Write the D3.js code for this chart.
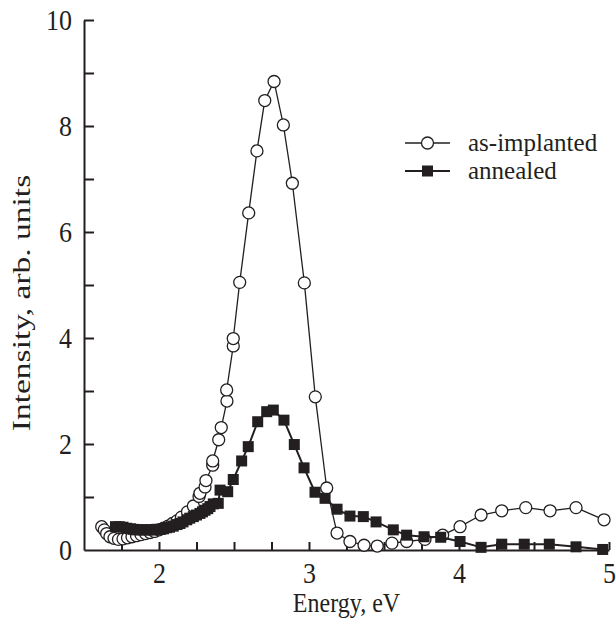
<!DOCTYPE html>
<html>
<head>
<meta charset="utf-8">
<script src="https://cdn.jsdelivr.net/npm/d3@7"></script>
<style>
  html, body { margin: 0; padding: 0; background: #fff; }
  svg { display: block; }
  .axis text, .lbl {
    font-family: "Liberation Serif", "Times New Roman", serif; fill: #231f20;
    transform-box: fill-box; transform-origin: center; transform: scaleY(1.12);
  }
  .axis text { font-size: 26px; }
  .axis line, .axis path { stroke: #231f20; stroke-width: 2; }
  .lbl { font-size: 24px; }
  .leg { font-family: "Liberation Serif", "Times New Roman", serif; font-size: 25px; fill: #231f20; }
  .ylbl { font-family: "Liberation Serif", "Times New Roman", serif; font-size: 25px; fill: #231f20; }
</style>
</head>
<body>
<div id="chart"></div>
<script>
// Photoluminescence spectra: [energy eV, intensity arb. units]
const asImplanted = [
  [1.618, 0.44], [1.635, 0.38], [1.651, 0.31], [1.673, 0.25], [1.700, 0.22],
  [1.730, 0.20], [1.760, 0.21], [1.790, 0.23], [1.820, 0.25], [1.850, 0.27],
  [1.880, 0.29], [1.910, 0.31], [1.940, 0.33], [1.970, 0.35], [2.000, 0.38],
  [2.030, 0.41], [2.060, 0.45], [2.090, 0.50], [2.120, 0.55], [2.150, 0.62],
  [2.190, 0.72], [2.229, 0.83], [2.267, 1.01], [2.273, 1.07], [2.307, 1.19],
  [2.313, 1.31], [2.358, 1.60], [2.358, 1.68], [2.398, 2.08], [2.415, 2.31],
  [2.453, 2.81], [2.451, 3.02], [2.495, 3.85], [2.495, 3.99], [2.538, 5.05],
  [2.598, 6.36], [2.653, 7.53], [2.705, 8.48], [2.767, 8.84], [2.829, 8.02],
  [2.889, 6.92], [2.969, 5.04], [3.042, 2.89], [3.118, 1.17], [3.187, 0.32],
  [3.273, 0.16], [3.367, 0.09], [3.455, 0.075], [3.553, 0.13], [3.651, 0.16],
  [3.773, 0.20], [3.891, 0.28], [4.007, 0.44], [4.147, 0.66], [4.285, 0.74],
  [4.445, 0.80], [4.607, 0.74], [4.780, 0.80], [4.967, 0.57]
];

const annealed = [
  [1.710, 0.44], [1.735, 0.44], [1.760, 0.43], [1.785, 0.41], [1.810, 0.40],
  [1.830, 0.39], [1.850, 0.38], [1.875, 0.38], [1.900, 0.38], [1.920, 0.38],
  [1.945, 0.38], [1.965, 0.38], [1.985, 0.39], [2.007, 0.39], [2.030, 0.40],
  [2.050, 0.42], [2.070, 0.43], [2.095, 0.45], [2.120, 0.48], [2.140, 0.50],
  [2.160, 0.53], [2.185, 0.57], [2.205, 0.60], [2.229, 0.63], [2.250, 0.66],
  [2.273, 0.69], [2.290, 0.72], [2.307, 0.75], [2.325, 0.78], [2.340, 0.82],
  [2.362, 0.87], [2.395, 0.88], [2.407, 1.13], [2.458, 1.10], [2.495, 1.33],
  [2.551, 1.68], [2.595, 1.95], [2.658, 2.42], [2.718, 2.61], [2.762, 2.64],
  [2.833, 2.45], [2.902, 1.99], [2.967, 1.55], [3.040, 1.09], [3.107, 0.975],
  [3.187, 0.77], [3.273, 0.64], [3.362, 0.63], [3.447, 0.53], [3.562, 0.38],
  [3.651, 0.28], [3.767, 0.25], [3.878, 0.24], [4.007, 0.16], [4.147, 0.05],
  [4.285, 0.11], [4.435, 0.11], [4.602, 0.11], [4.780, 0.06], [4.958, 0.01]
];

const xDomain = [1.5, 5];
const yDomain = [0, 10];
const xTicks = [1.75, 2, 2.25, 2.5, 2.75, 3, 3.25, 3.5, 3.75, 4, 4.25, 4.5, 4.75, 5];
const yTicks = [1, 2, 3, 4, 5, 6, 7, 8, 9, 10];
const xTickLabels = [2, 3, 4, 5];
const yTickLabels = [0, 2, 4, 6, 8, 10];
const seriesNames = ["as-implanted", "annealed"];

const INK = "#231f20";
const width = 616, height = 619;
const margin = { top: 20, right: 7, bottom: 69, left: 84 };
const iw = width - margin.left - margin.right;
const ih = height - margin.top - margin.bottom;

const svg = d3.select("#chart").append("svg")
  .attr("width", width).attr("height", height);

const g = svg.append("g").attr("transform", `translate(${margin.left},${margin.top})`);

const x = d3.scaleLinear().domain(xDomain).range([0, iw]);
const y = d3.scaleLinear().domain(yDomain).range([ih, 0]);

// Akser
g.append("g").attr("class", "axis")
  .attr("transform", `translate(0,${ih})`)
  .call(d3.axisBottom(x)
    .tickValues(xTicks)
    .tickSize(-8)
    .tickPadding(13)
    .tickSizeOuter(0)
    .tickFormat(d => xTickLabels.includes(d) ? d : ""));

g.append("g").attr("class", "axis")
  .call(d3.axisLeft(y)
    .tickValues([0, ...yTicks])
    .tickSize(-10)
    .tickPadding(12)
    .tickSizeOuter(0)
    .tickFormat(d => yTickLabels.includes(d) ? d : ""))
  .call(a => a.selectAll(".tick").filter(d => d === 0).select("line").remove());

// Aksetitler
svg.append("text").attr("class", "lbl")
  .attr("x", margin.left + iw / 2).attr("y", 611)
  .attr("text-anchor", "middle")
  .text("Energy, eV");

// y-tittelen er strukket på langs i originalen
svg.append("g")
  .attr("transform", `translate(30,${margin.top + ih / 2 + 18}) scale(1,1.34)`)
  .append("text").attr("class", "ylbl")
  .attr("transform", "rotate(-90)")
  .attr("text-anchor", "middle")
  .text("Intensity, arb. units");

const line = d3.line().x(d => x(d[0])).y(d => y(d[1]));

// as-implanted: åpne sirkler
g.append("path").datum(asImplanted)
  .attr("fill", "none").attr("stroke", INK).attr("stroke-width", 1.3)
  .attr("d", line);
g.selectAll("circle.ai").data(asImplanted).join("circle")
  .attr("class", "ai")
  .attr("cx", d => x(d[0])).attr("cy", d => y(d[1]))
  .attr("r", 6)
  .attr("fill", "#fff").attr("stroke", INK).attr("stroke-width", 1.3);

// annealed: fylte kvadrater
const sq = 11;
g.append("path").datum(annealed)
  .attr("fill", "none").attr("stroke", INK).attr("stroke-width", 2)
  .attr("d", line);
g.selectAll("rect.an").data(annealed).join("rect")
  .attr("class", "an")
  .attr("x", d => x(d[0]) - sq / 2).attr("y", d => y(d[1]) - sq / 2)
  .attr("width", sq).attr("height", sq)
  .attr("fill", INK);

// Legende
const legend = svg.append("g").attr("transform", "translate(405,143)");
seriesNames.forEach((name, i) => {
  const row = legend.append("g").attr("transform", `translate(0,${i * 28})`);
  row.append("line").attr("x1", 0).attr("x2", 45).attr("y1", 0).attr("y2", 0)
    .attr("stroke", INK).attr("stroke-width", i === 0 ? 1.3 : 2);
  if (i === 0) {
    row.append("circle").attr("cx", 22.5).attr("cy", 0).attr("r", 6)
      .attr("fill", "#fff").attr("stroke", INK).attr("stroke-width", 1.3);
  } else {
    row.append("rect").attr("x", 22.5 - sq / 2).attr("y", -sq / 2)
      .attr("width", sq).attr("height", sq).attr("fill", INK);
  }
  row.append("text").attr("class", "leg")
    .attr("x", 63).attr("y", 0).attr("dy", "0.32em")
    .text(name);
});
</script>
</body>
</html>
